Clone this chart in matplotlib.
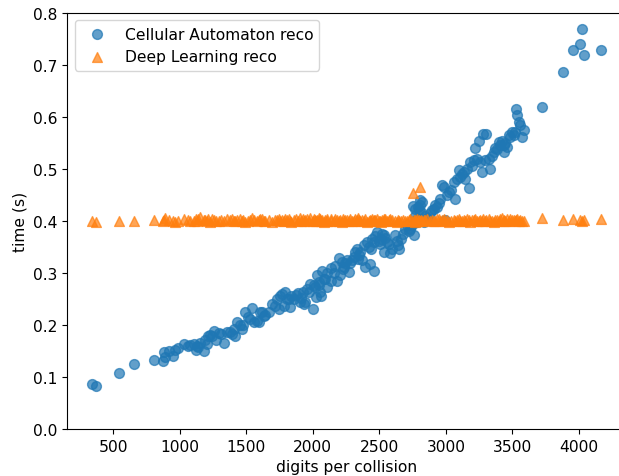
import matplotlib
matplotlib.use("Agg")
import matplotlib.pyplot as plt

plt.rcParams["font.size"] = 11.2

# digits per collision (shared by both reconstructions)
digits = [344, 370, 545, 660, 808, 875, 883, 891, 949, 966,
          1034, 1104, 1124, 1129, 1154, 1179, 1205, 1216, 1224, 1259,
          1292, 1392, 1404, 1430, 1455, 1468, 1492, 1530, 1543, 1555,
          1580, 1618, 1643, 1668, 1693, 1731, 1743, 1756, 1785, 1793,
          1806, 1818, 1831, 1838, 1856, 1906, 1912, 1925, 1931, 1944,
          1956, 1975, 1981, 1998, 2006, 2019, 2025, 2032, 2044, 2050,
          2056, 2063, 2069, 2082, 2094, 2107, 2110, 2135, 2169, 2182,
          2194, 2207, 2220, 2226, 2232, 2257, 2270, 2282, 2307, 2332,
          2338, 2357, 2370, 2382, 2395, 2408, 2432, 2438, 2445, 2457,
          2463, 2483, 2508, 2514, 2520, 2532, 2538, 2558, 2570, 2583,
          2615, 2633, 2639, 2645, 2708, 2720, 2733, 2746, 2751, 2758,
          2764, 2770, 2776, 2783, 2789, 2796, 2802, 2808, 2814, 2820,
          2833, 2908, 2934, 2959, 2971, 2983, 2996, 3021, 3059, 3071,
          3096, 3109, 3134, 3146, 3171, 3184, 3209, 3222, 3234, 3247,
          3259, 3272, 3278, 3297, 3303, 3322, 3334, 3359, 3384, 3397,
          3422, 3434, 3440, 3459, 3472, 3497, 3522, 3528, 3535, 3547,
          3560, 3573, 3723, 3879, 3953, 4006, 4024, 4036, 4162,
          920, 990, 1060, 1080, 1140, 1190, 1240, 1275, 1310, 1335,
          1355, 1380, 1417, 1478, 1510, 1592, 1605, 1630, 1715, 1768,
          1870, 1890, 2140, 2160, 2245, 2295, 2320, 2345, 2420, 2470,
          2495, 2545, 2595, 2660, 2680, 2695, 2845, 2860, 2880, 2895,
          2920, 2945, 3008, 3040, 3085, 3120, 3158, 3196, 3347, 3372,
          3410, 3447, 3485, 3510, 3590]

ca_time = [0.086, 0.082, 0.108, 0.125, 0.133, 0.131, 0.147, 0.138, 0.141, 0.152,
           0.163, 0.163, 0.151, 0.160, 0.165, 0.149, 0.163, 0.179, 0.181, 0.189,
           0.185, 0.183, 0.192, 0.205, 0.199, 0.192, 0.224, 0.212, 0.232, 0.205,
           0.208, 0.224, 0.219, 0.224, 0.240, 0.250, 0.231, 0.256, 0.237, 0.264,
           0.250, 0.250, 0.234, 0.256, 0.250, 0.244, 0.252, 0.263, 0.240, 0.244,
           0.269, 0.263, 0.279, 0.230, 0.276, 0.272, 0.253, 0.295, 0.282, 0.276,
           0.263, 0.256, 0.303, 0.288, 0.288, 0.272, 0.300, 0.285, 0.314, 0.285,
           0.328, 0.295, 0.320, 0.308, 0.311, 0.324, 0.301, 0.319, 0.331, 0.346,
           0.327, 0.340, 0.324, 0.353, 0.311, 0.359, 0.317, 0.346, 0.365, 0.304,
           0.359, 0.378, 0.356, 0.365, 0.375, 0.340, 0.372, 0.359, 0.356, 0.339,
           0.372, 0.362, 0.353, 0.346, 0.391, 0.381, 0.385, 0.391, 0.429, 0.372,
           0.423, 0.410, 0.401, 0.397, 0.426, 0.420, 0.430, 0.439, 0.417, 0.436,
           0.398, 0.423, 0.426, 0.442, 0.468, 0.465, 0.401, 0.455, 0.474, 0.442,
           0.497, 0.484, 0.494, 0.481, 0.463, 0.513, 0.516, 0.540, 0.519, 0.554,
           0.513, 0.494, 0.567, 0.516, 0.567, 0.519, 0.500, 0.532, 0.538, 0.551,
           0.554, 0.545, 0.532, 0.542, 0.564, 0.571, 0.571, 0.615, 0.603, 0.590,
           0.583, 0.561, 0.619, 0.685, 0.728, 0.740, 0.769, 0.718, 0.728,
           0.150, 0.155, 0.160, 0.162, 0.158, 0.170, 0.178, 0.170, 0.182, 0.165,
           0.186, 0.186, 0.179, 0.200, 0.215, 0.205, 0.225, 0.218, 0.236, 0.260,
           0.258, 0.262, 0.310, 0.300, 0.318, 0.325, 0.340, 0.335, 0.350, 0.370,
           0.362, 0.366, 0.345, 0.365, 0.375, 0.385, 0.410, 0.405, 0.415, 0.420,
           0.430, 0.435, 0.450, 0.460, 0.480, 0.490, 0.500, 0.505, 0.525, 0.540,
           0.545, 0.550, 0.560, 0.565, 0.575]

dl_time = [0.400, 0.398, 0.399, 0.400, 0.401, 0.399, 0.402, 0.405, 0.400, 0.398,
           0.403, 0.400, 0.404, 0.399, 0.407, 0.401, 0.400, 0.403, 0.398, 0.402,
           0.400, 0.404, 0.399, 0.401, 0.403, 0.400, 0.398, 0.402, 0.405, 0.401,
           0.399, 0.403, 0.400, 0.402, 0.398, 0.401, 0.404, 0.400, 0.399, 0.403,
           0.401, 0.404, 0.400, 0.398, 0.402, 0.405, 0.400, 0.403, 0.399, 0.401,
           0.404, 0.400, 0.406, 0.399, 0.403, 0.401, 0.400, 0.402, 0.405, 0.399,
           0.403, 0.400, 0.402, 0.398, 0.401, 0.404, 0.400, 0.399, 0.403, 0.401,
           0.400, 0.402, 0.398, 0.404, 0.400, 0.401, 0.399, 0.403, 0.400, 0.402,
           0.405, 0.399, 0.401, 0.400, 0.403, 0.398, 0.402, 0.400, 0.404, 0.399,
           0.401, 0.403, 0.400, 0.398, 0.402, 0.400, 0.404, 0.399, 0.401, 0.403,
           0.400, 0.398, 0.402, 0.400, 0.399, 0.401, 0.403, 0.400, 0.454, 0.402,
           0.398, 0.401, 0.400, 0.403, 0.399, 0.401, 0.400, 0.465, 0.402, 0.399,
           0.401, 0.400, 0.403, 0.399, 0.401, 0.404, 0.400, 0.398, 0.402, 0.400,
           0.403, 0.399, 0.401, 0.400, 0.402, 0.398, 0.401, 0.403, 0.400, 0.399,
           0.402, 0.400, 0.404, 0.399, 0.401, 0.403, 0.400, 0.398, 0.402, 0.400,
           0.406, 0.401, 0.399, 0.403, 0.400, 0.402, 0.399, 0.401, 0.403, 0.400,
           0.402, 0.399, 0.405, 0.401, 0.404, 0.401, 0.400, 0.402, 0.404,
           0.401, 0.399, 0.402, 0.400, 0.404, 0.401, 0.403, 0.400, 0.402, 0.399,
           0.403, 0.401, 0.400, 0.402, 0.399, 0.401, 0.403, 0.400, 0.402, 0.401,
           0.404, 0.400, 0.403, 0.399, 0.402, 0.400, 0.404, 0.401, 0.399, 0.402,
           0.400, 0.403, 0.401, 0.399, 0.402, 0.400, 0.401, 0.403, 0.399, 0.402,
           0.400, 0.404, 0.401, 0.399, 0.402, 0.400, 0.403, 0.401, 0.399, 0.402,
           0.404, 0.400, 0.403, 0.401, 0.399]

fig = plt.figure(figsize=(6.19, 4.77), dpi=100)
ax = fig.add_axes([67 / 619, 47 / 477, 559 / 619, 416.5 / 477])

ax.scatter(digits, ca_time, s=50, alpha=0.7, color="tab:blue", label="Cellular Automaton reco")
ax.scatter(digits, dl_time, s=50, alpha=0.7, marker="^", color="tab:orange", label="Deep Learning reco")

ax.set_xlim(153, 4353)
ax.set_ylim(0, 0.8)
ax.set_xticks([500, 1000, 1500, 2000, 2500, 3000, 3500, 4000])
ax.set_xlabel("digits per collision")
ax.set_ylabel("time (s)")
ax.legend(loc="upper left")

fig.savefig("out.png", dpi=100)
